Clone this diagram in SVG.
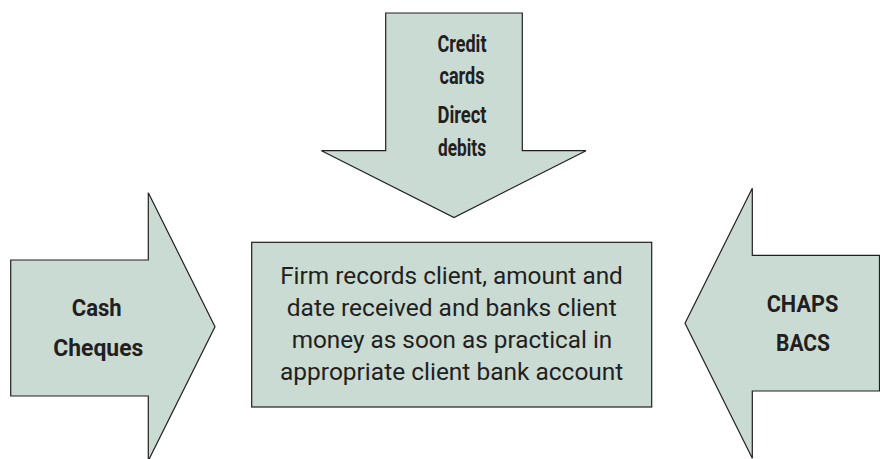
<svg xmlns="http://www.w3.org/2000/svg" width="880" height="459" viewBox="0 0 880 459">
<style>
.shape{fill:#c9dbd3;stroke:#231f20;stroke-width:1.2;stroke-linejoin:miter}
.lbl{font-family:Roboto,"Open Sans","Liberation Sans",sans-serif;font-weight:bold;font-size:24px;fill:#231f20;text-anchor:middle}
.body{font-family:Roboto,"Open Sans","Liberation Sans",sans-serif;font-size:24px;fill:#231f20;text-anchor:middle}
</style>
<rect width="880" height="459" fill="#ffffff"/>
<g id="arrow-top">
<polygon class="shape" points="385.7,13 522.3,13 522.3,150.7 586,150.7 454,217.5 321.5,150.7 385.7,150.7"/>
<text class="lbl" x="462" y="51.7" textLength="49" lengthAdjust="spacingAndGlyphs">Credit</text>
<text class="lbl" x="462" y="84" textLength="45" lengthAdjust="spacingAndGlyphs">cards</text>
<text class="lbl" x="462" y="123" textLength="49" lengthAdjust="spacingAndGlyphs">Direct</text>
<text class="lbl" x="462" y="155.5" textLength="48" lengthAdjust="spacingAndGlyphs">debits</text>
</g>
<g id="arrow-left">
<polygon class="shape" points="10.7,260 148.3,260 148.3,192.7 215,326.7 148.3,460.7 148.3,396 10.7,396"/>
<text class="lbl" x="96.7" y="316" textLength="50" lengthAdjust="spacingAndGlyphs">Cash</text>
<text class="lbl" x="98.3" y="356" textLength="90" lengthAdjust="spacingAndGlyphs">Cheques</text>
</g>
<g id="arrow-right">
<polygon class="shape" points="685,323.3 752.3,188.3 752.3,255.3 879.5,255.3 879.5,391 752.3,391 752.3,458.3"/>
<text class="lbl" x="802.5" y="311.7" textLength="71.7" lengthAdjust="spacingAndGlyphs">CHAPS</text>
<text class="lbl" x="803" y="350.7" textLength="54" lengthAdjust="spacingAndGlyphs">BACS</text>
</g>
<g id="node-firm">
<rect class="shape" x="251.7" y="242.3" width="400" height="164.7"/>
<text class="body" x="451.5" y="284" textLength="342.7" lengthAdjust="spacingAndGlyphs">Firm records client, amount and</text>
<text class="body" x="451.7" y="316" textLength="330" lengthAdjust="spacingAndGlyphs">date received and banks client</text>
<text class="body" x="452" y="348.3" textLength="320.6" lengthAdjust="spacingAndGlyphs">money as soon as practical in</text>
<text class="body" x="451.7" y="380" textLength="343.3" lengthAdjust="spacingAndGlyphs">appropriate client bank account</text>
</g>
<g id="connectors"></g>
</svg>
